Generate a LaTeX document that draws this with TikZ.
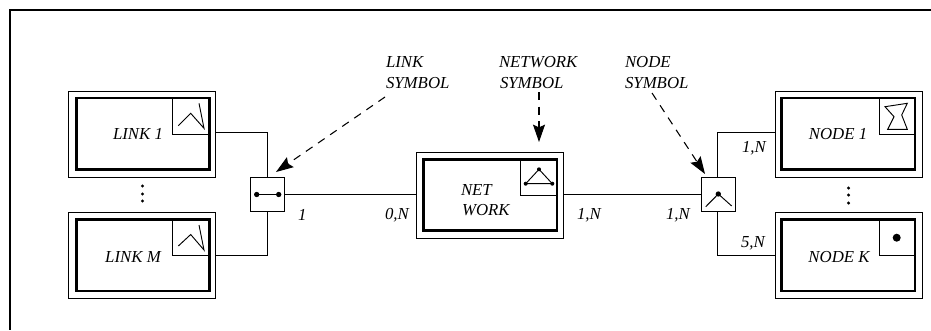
\documentclass[tikz,border=0pt]{standalone}
\usepackage{fontspec}
\setmainfont{Liberation Serif}
\usetikzlibrary{arrows.meta}
\tikzset{
  x=0.75pt,y=-0.75pt,
  every node/.style={font=\fontsize{12.6pt}{14pt}\selectfont\itshape,inner sep=0pt,outer sep=0pt},
  frameline/.style={line width=1.5pt,black},
  outerbox/.style={draw,line width=0.85pt,minimum width=110.5pt,minimum height=64.5pt},
  innerbox/.style={draw,line width=2.1pt,minimum width=100pt,minimum height=53.5pt},
  symbox/.style={line width=0.85pt},
  smallbox/.style={draw,line width=0.85pt,fill=white,minimum width=25pt,minimum height=25pt},
  wire/.style={line width=0.85pt},
  glyph/.style={line width=0.7pt},
  pointer/.style={line width=0.8pt,dash pattern=on 6pt off 5pt,-{Stealth[length=13pt,width=9pt,inset=2pt]}},
  lbl/.style={anchor=west,align=left},
  vdot/.style={circle,fill=black,minimum size=2.6pt}
}
\begin{document}
\begin{tikzpicture}
\useasboundingbox (0,0) rectangle (931,330);
\draw[frameline] (931,9.5) -- (9.5,9.5) -- (9.5,330);
% boxes
\node[outerbox] (link1) at (142,134.7) {};
\node[innerbox] (link1i) at (142.8,133.7) {};
\node[outerbox] (linkm) at (142,255.7) {};
\node[innerbox] (linkmi) at (142.8,255.4) {};
\node[outerbox] (net) at (489.8,195.2) {};
\node[innerbox] (neti) at (490.3,195) {};
\node[outerbox] (node1) at (849,134.7) {};
\node[innerbox] (node1i) at (848.3,133.7) {};
\node[outerbox] (nodek) at (849,255.7) {};
\node[innerbox] (nodeki) at (848.3,255.4) {};
% symbol corners
\draw[symbox] (172.5,98) |- (209,134.5);
\draw[symbox] (172.5,220) |- (209,255.5);
\draw[symbox] (520.5,159.5) |- (557,195.5);
\draw[symbox] (879.5,98) |- (915,134.5);
\draw[symbox] (879.5,220) |- (915,255.5);
% small boxes
\node[smallbox] (ls) at (267.5,194.5) {};
\node[smallbox] (ns) at (718.5,194.5) {};
% wires
\draw[wire] ([yshift=1.65pt]link1.east) -| (ls.north);
\draw[wire] ([yshift=0.15pt]linkm.east) -| (ls.south);
\draw[wire] (ls.east) -- (net.west |- ls.east);
\draw[wire] (net.east |- ns.west) -- (ns.west);
\draw[wire] ([yshift=1.65pt]node1.west) -| ([xshift=-0.75pt]ns.north);
\draw[wire] ([yshift=0.15pt]nodek.west) -| ([xshift=-0.75pt]ns.south);
% labels
\node at (138,134) {LINK 1};
\node at (133,257) {LINK M};
\node[lbl] at (461,190) {NET};
\node[lbl] at (462,210) {WORK};
\node at (838,134) {NODE 1};
\node at (839,257) {NODE K};
\node[lbl] (tl) at (386,62) {LINK};
\node[lbl] at (386,83) {SYMBOL};
\node[lbl] at (499,62) {NETWORK};
\node[lbl] at (500,83) {SYMBOL};
\node[lbl] at (625,62) {NODE};
\node[lbl] at (625,83) {SYMBOL};
\node[lbl] at (298,215) {1};
\node[lbl] at (385,215) {0,N};
\node[lbl] at (577,215) {1,N};
\node[lbl] at (666,215) {1,N};
\node[lbl] at (742,148) {1,N};
\node[lbl] at (741,243) {5,N};
% pointers
\coordinate (pa) at (385,97);
\coordinate (pb) at (276,172);
\coordinate (pc) at (539,92);
\coordinate (pd) at (539,142);
\coordinate (pe) at (652,93);
\coordinate (pf) at (705,174);
\draw[pointer] (pa) -- (pb);
\draw[pointer] (pc) -- (pd);
\draw[pointer] (pe) -- (pf);
% vertical dots
\foreach \y in {186,194,201}{\node[vdot] at (142.5,\y) {};}
\foreach \y in {188,195,203}{\node[vdot] at (848.5,\y) {};}
% glyphs
\draw[glyph] (178.3,125.7) -- (190.7,113.3) -- (204,128.3) -- (199,103.3);
\draw[glyph] (178.3,246) -- (190.7,234.5) -- (204,250) -- (199,225);
\draw[glyph] (525.7,183.7) -- (539,169.3) -- (552.3,183.7) -- cycle;
\foreach \p in {(525.7,183.7),(539,169.3),(552.3,183.7)}{\fill \p circle[radius=1.5pt];}
\draw[glyph] (885,106.7) -- (907.3,103.3) -- (901.7,115) -- (907.3,129.3) -- (887.7,129.3) -- (894,116.7) -- cycle;
\fill (896.7,237.7) circle[radius=3pt];
\draw[glyph] (256.7,194.5) -- (278.7,194.5);
\fill (256.7,194.5) circle[radius=2pt] (278.7,194.5) circle[radius=2pt];
\draw[glyph] (705.7,206.7) -- (718.3,194) -- (731.7,206);
\fill (718.3,194) circle[radius=2pt];
\end{tikzpicture}
\end{document}
